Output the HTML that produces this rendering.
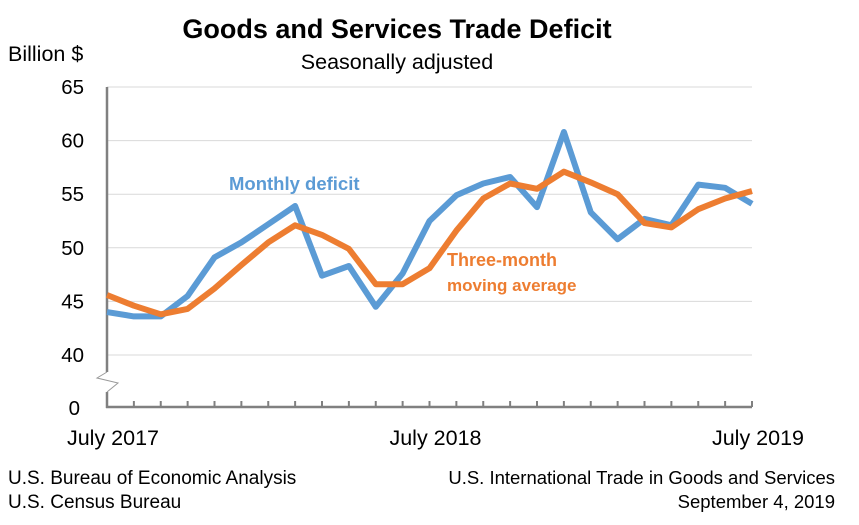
<!DOCTYPE html>
<html><head><meta charset="utf-8"><style>
body{margin:0;background:#fff;font-family:"Liberation Sans",sans-serif}
svg text{font-family:"Liberation Sans",sans-serif}
</style></head><body>
<svg width="859" height="520" viewBox="0 0 859 520">
<text x="397" y="38" text-anchor="middle" font-size="27" font-weight="bold" fill="#000">Goods and Services Trade Deficit</text>
<text x="397" y="69" text-anchor="middle" font-size="21.5" fill="#000">Seasonally adjusted</text>
<text x="8" y="61" font-size="21.5" fill="#000">Billion $</text>
<g id="grid"></g>
<g id="axes"></g>
<g id="series"></g>
<text x="229" y="190" font-size="18.5" font-weight="bold" fill="#5b9bd5">Monthly deficit</text>
<text x="447" y="266" font-size="18" font-weight="bold" fill="#ed7d31">Three-month</text>
<text x="447" y="291" font-size="17" font-weight="bold" fill="#ed7d31">moving average</text>
<text x="8" y="484" font-size="19" fill="#000">U.S. Bureau of Economic Analysis</text>
<text x="8" y="508" font-size="19" fill="#000">U.S. Census Bureau</text>
<text x="835" y="484" text-anchor="end" font-size="18.5" fill="#000">U.S. International Trade in Goods and Services</text>
<text x="835" y="508" text-anchor="end" font-size="18.5" fill="#000">September 4, 2019</text>
</svg>
<script>
const months = ["Jul17","Aug17","Sep17","Oct17","Nov17","Dec17","Jan18","Feb18","Mar18","Apr18","May18","Jun18","Jul18","Aug18","Sep18","Oct18","Nov18","Dec18","Jan19","Feb19","Mar19","Apr19","May19","Jun19","Jul19"];
const monthly = [44.0,43.6,43.6,45.5,49.1,50.5,52.2,53.9,47.4,48.3,44.5,47.6,52.5,54.9,56.0,56.6,53.8,60.8,53.3,50.8,52.7,52.1,55.9,55.6,54.1];
const movingAvg = [45.6,44.6,43.8,44.3,46.2,48.4,50.5,52.1,51.2,49.9,46.6,46.6,48.1,51.6,54.6,56.0,55.5,57.1,56.1,55.0,52.3,51.9,53.6,54.6,55.3];
const yTicks = [40,45,50,55,60,65];
const xLabels = [{i:0,t:"July 2017"},{i:12,t:"July 2018"},{i:24,t:"July 2019"}];
const NS="http://www.w3.org/2000/svg";
const x0=107,x1=752,yTop=87,yBot=355;
const xs=i=>x0+(x1-x0)*i/(months.length-1);
const ys=v=>yBot-(v-40)*(yBot-yTop)/25;
function mk(tag,attrs,parent){const e=document.createElementNS(NS,tag);for(const k in attrs)e.setAttribute(k,attrs[k]);document.getElementById(parent).appendChild(e);return e;}
yTicks.forEach(v=>{
  if(v>40){const l=mk("line",{x1:x0,x2:x1,y1:ys(v),y2:ys(v),stroke:"#d9d9d9","stroke-width":1},"grid");
  
  }
  const t=mk("text",{x:84,y:ys(v)+7,"text-anchor":"end","font-size":20.5},"axes");t.textContent=v;
  
  
});
const l40=mk("line",{x1:x0,x2:x1,y1:ys(40),y2:ys(40),stroke:"#d9d9d9","stroke-width":1},"grid");


const z=mk("text",{x:80,y:415,"text-anchor":"end","font-size":20.5},"axes");z.textContent="0";


const ya=mk("path",{d:`M${x0} ${yTop}V372M${x0} 392V408`,stroke:"#808080","stroke-width":2.5,fill:"none"},"axes");


const br=mk("path",{d:`M${x0} 372L97 378L118 383L${x0} 392`,stroke:"#999","stroke-width":1,fill:"none"},"axes");


const xa=mk("line",{x1:x0-1,x2:x1,y1:407,y2:407,stroke:"#808080","stroke-width":2.5},"axes");


months.forEach((m,i)=>{if(i>0){const t=mk("line",{x1:xs(i),x2:xs(i),y1:401,y2:407,stroke:"#808080","stroke-width":2},"axes");

}});
xLabels.forEach(o=>{const t=mk("text",{x:xs(o.i)+6,y:445,"text-anchor":"middle","font-size":21.5},"axes");t.textContent=o.t;

});
function line(vals,color,name){
  const d=vals.map((v,i)=>(i?"L":"M")+xs(i).toFixed(1)+" "+ys(v).toFixed(1)).join("");
  const p=mk("path",{d:d,stroke:color,"stroke-width":6,fill:"none","stroke-linejoin":"round"},"series");
  
  
}
line(monthly,"#5b9bd5","monthly-deficit-line");
line(movingAvg,"#ed7d31","moving-average-line");
</script>
</body></html>
